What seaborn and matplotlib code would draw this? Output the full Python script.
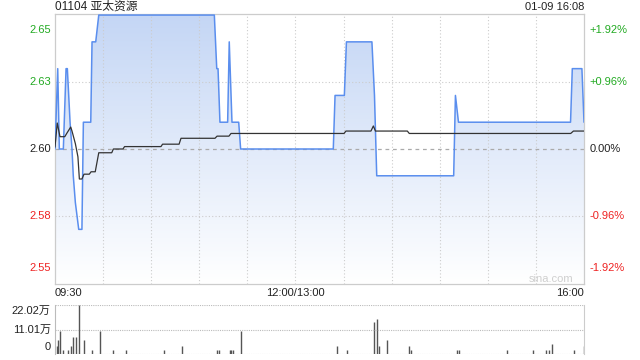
import numpy as np
import pandas as pd
import matplotlib
matplotlib.use('Agg')
import matplotlib.pyplot as plt
import seaborn as sns
from matplotlib.colors import LinearSegmentedColormap

# ---------------- data ----------------
title = "01104 亚太资源"
stamp = "01-09 16:08"
x_labels = ["09:30", "12:00/13:00", "16:00"]
prev_close = 2.60
left_labels = ["2.65", "2.63", "2.60", "2.58", "2.55"]
right_labels = ["+1.92%", "+0.96%", "0.00%", "-0.96%", "-1.92%"]
vol_labels = ["22.02万", "11.01万", "0"]

# minutes since 09:30 (trading minutes, lunch removed)
price_min = [0, 1.7, 2.7, 5.2, 6.9, 7.7, 9.4, 10.6, 11.4, 12.7, 14.8, 16.8, 17.7, 22.3,
             23.1, 25.4, 27.3, 99.4, 100.9, 101.7, 102.9, 107.7, 108.7, 110.4, 114.6,
             115.8, 173.6, 174.7, 180.5, 181.8, 197.7, 199.3, 200.7, 248.7, 249.8,
             251.7, 321.6, 322.7, 328.7, 330]
price = [2.60, 2.63, 2.60, 2.60, 2.63, 2.63, 2.61, 2.60, 2.59, 2.58, 2.57, 2.57, 2.61, 2.61,
         2.64, 2.64, 2.65, 2.65, 2.63, 2.63, 2.61, 2.61, 2.64, 2.61, 2.61,
         2.60, 2.60, 2.62, 2.62, 2.64, 2.64, 2.62, 2.59, 2.59, 2.62,
         2.61, 2.61, 2.63, 2.63, 2.61]

avg_min = [0, 1.4, 3.1, 6.1, 7.3, 9.8, 10.6, 12.7, 14.3, 15.2, 16.8, 18.1, 21.4, 22.5,
           25.1, 27.3, 35.4, 36.4, 42.4, 43.4, 66.1, 67.1, 77.4, 78.6, 99.8, 101.1,
           108.5, 109.8, 180.3, 181.5, 197.1, 198.6, 199.9, 219.8, 221.0, 321.7,
           323.4, 330]
avg_price = [2.6007, 2.6097, 2.6046, 2.6046, 2.6058, 2.6082, 2.6067, 2.6020, 2.5971,
             2.5888, 2.5888, 2.5906, 2.5906, 2.5915, 2.5915, 2.5986, 2.5986, 2.6000,
             2.6000, 2.6009, 2.6009, 2.6018, 2.6018, 2.6040, 2.6040, 2.6048, 2.6048,
             2.6058, 2.6058, 2.6067, 2.6067, 2.6086, 2.6067, 2.6067, 2.6058, 2.6058,
             2.6067, 2.6067]

vol_min = [1, 2, 3, 5, 8, 10, 11, 13, 15, 18, 23, 28, 36, 44, 68, 79, 101, 102, 109,
           110, 111, 116, 176, 182, 199, 201, 202, 207, 221, 222, 251, 252, 282, 298,
           306, 308, 310, 324, 330]
volume = [37000, 61000, 102000, 19000, 19000, 37000, 78000, 78000, 220200, 61000,
          19000, 102000, 19000, 19000, 19000, 37000, 19000, 19000, 19000, 19000,
          19000, 102000, 37000, 19000, 142000, 159000, 37000, 61000, 37000, 19000,
          19000, 19000, 19000, 19000, 19000, 19000, 46000, 19000, 37000]

# ---------------- style ----------------
sns.set_style("white")
plt.rcParams['font.family'] = ['Liberation Sans', 'Noto Sans CJK SC', 'DejaVu Sans']

GREEN = '#22aa22'
RED = '#ee2222'
GRID = '#cccccc'
LINE = '#5a8eee'

fig = plt.figure(figsize=(6.4, 3.6), dpi=100)
W, H = 640, 360
L, R = 55, 584
ax = fig.add_axes([L / W, 1 - 284 / H, (R - L) / W, (284 - 14) / H])
axv = fig.add_axes([L / W, 1 - 354 / H, (R - L) / W, (354 - 305) / H])

ylo, yhi = 2.5496, 2.6504
xmax = 330

df_p = pd.DataFrame({'t': price_min, 'p': price})
df_a = pd.DataFrame({'t': avg_min, 'p': avg_price})

# gradient fill under price line
poly = ax.fill_between(df_p['t'], df_p['p'], ylo, color='none', lw=0)
grad = np.linspace(0, 1, 256).reshape(-1, 1)
cmap = LinearSegmentedColormap.from_list('g', ['#ffffff', '#c4d6f5'])
im = ax.imshow(grad, extent=[0, xmax, ylo, yhi], origin='lower', aspect='auto',
               cmap=cmap, zorder=1, interpolation='bilinear')
im.set_clip_path(poly.get_paths()[0], transform=ax.transData)

# gridlines
for m in range(30, 330, 30):
    ax.axvline(m, color=GRID, lw=0.8, ls=(0, (1, 2)), zorder=2)
for yv in [2.625, 2.575]:
    ax.axhline(yv, color=GRID, lw=0.8, ls=(0, (1, 2)), zorder=2)
ax.axhline(prev_close, color='#aaaaaa', lw=0.9, ls=(0, (3, 3)), zorder=2)

sns.lineplot(data=df_p, x='t', y='p', ax=ax, color=LINE, lw=1.1, estimator=None,
             sort=False, zorder=4)
sns.lineplot(data=df_a, x='t', y='p', ax=ax, color='#333333', lw=0.9, estimator=None,
             sort=False, zorder=5)

ax.set_xlim(0, xmax)
ax.set_ylim(ylo, yhi)
ax.set_xticks([])
ax.set_yticks([])
ax.set_xlabel('')
ax.set_ylabel('')
for s in ax.spines.values():
    s.set_color(GRID)
    s.set_linewidth(0.9)

# y labels
yvals = [yhi, 2.625, prev_close, 2.575, ylo]
cols = [GREEN, GREEN, '#222222', RED, RED]
vas = ['top', 'center', 'center', 'center', 'bottom']
offs = [-0.004, 0, 0, 0, 0.004]
trans = ax.get_yaxis_transform()
for yv, lt, rt, c, va, o in zip(yvals, left_labels, right_labels, cols, vas, offs):
    ax.text(-0.008, yv + o, lt, transform=trans, ha='right', va=va, color=c, fontsize=8)
    ax.text(1.011, yv + o, rt, transform=trans, ha='left', va=va, color=c, fontsize=8)

# x labels
xl_y = -(293 - 284) / 270
ax.text(0, xl_y, x_labels[0], transform=ax.transAxes, ha='left', va='center', fontsize=8, color='#222222')
ax.text(150 / 330, xl_y, x_labels[1], transform=ax.transAxes, ha='center', va='center', fontsize=8, color='#222222')
ax.text(1, xl_y, x_labels[2], transform=ax.transAxes, ha='right', va='center', fontsize=8, color='#222222')

ax.text(0.979, 0.02, 'sina.com', transform=ax.transAxes, ha='right', va='center',
        fontsize=8, color='#cfcfcf')

fig.text(L / W, 1 - 7 / H, title, ha='left', va='center', fontsize=8.5, color='#222222')
fig.text(R / W, 1 - 7 / H, stamp, ha='right', va='center', fontsize=8, color='#222222')

# ---------------- volume ----------------
vmax = 220200
axv.vlines(vol_min, 0, volume, color='#555555', lw=1.0)
for yv in [vmax, vmax / 2, 0]:
    axv.axhline(yv, color='#bbbbbb', lw=0.8, ls=(0, (1, 1)))
axv.set_xlim(0, xmax)
axv.set_ylim(0, vmax)
axv.set_xticks([])
axv.set_yticks([])
axv.spines['top'].set_visible(False)
axv.spines['bottom'].set_visible(False)
axv.spines['left'].set_color('#bbbbbb')
axv.spines['left'].set_linestyle((0, (1, 1)))
axv.spines['right'].set_color(GRID)
vt = axv.get_yaxis_transform()
axv.text(-0.008, vmax - 3000, vol_labels[0], transform=vt, ha='right', va='top', fontsize=8, color='#222222')
axv.text(-0.008, vmax / 2, vol_labels[1], transform=vt, ha='right', va='center', fontsize=8, color='#222222')
axv.text(-0.008, 8000, vol_labels[2], transform=vt, ha='right', va='bottom', fontsize=8, color='#222222')

fig.savefig('out.png', dpi=100)
